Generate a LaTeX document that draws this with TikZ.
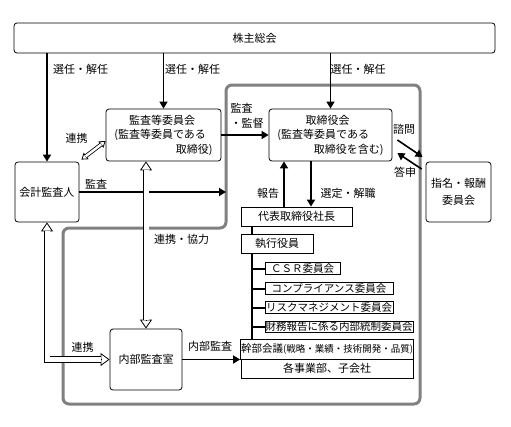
\documentclass[tikz,border=0pt]{standalone}
\usepackage{fontspec}
\setmainfont{Noto Sans CJK JP}
\usetikzlibrary{arrows.meta,calc}

\begin{document}
\begin{tikzpicture}[
        x=1pt, y=-1pt,
        % Environment Config
        font=\fontsize{11}{14.5}\selectfont,
        MyArrow/.style={% Style for the solid arrows
          -{Triangle[length=7pt,width=8pt]},
          line width=1.6pt
        },
        HollowShaft/.style={% Style for the body of the hollow arrows
          draw=black,
          line width=0.8pt,
          double=white,
          double distance=#1,
          shorten >=8.4pt,
          shorten <=8.4pt
        },
        HollowShaft/.default=5pt,
        RBox/.style={% Style for the rounded boxes
          draw,
          rounded corners=3pt,
          line width=0.8pt,
          align=center,
          inner sep=1pt
        },
        SBox/.style={% Style for the plain boxes
          draw,
          line width=0.8pt,
          inner sep=0.5pt
        },
        Cmte/.style={% Style for the committee boxes
          draw,
          line width=0.8pt,
          inner sep=0.3pt,
          minimum height=11.5pt,
          font=\fontsize{10.5}{12}\selectfont
        },
        Trunk/.style={line width=2pt},
        Frame/.style={% Style for the gray frame
          draw=gray,
          line width=3pt,
          rounded corners=6pt
        },
        Lbl/.style={inner sep=1pt}
      ]

      \def\HollowEnd(#1)(#2)#3#4{% Open head at #1, coming from #2
        \draw[line width=0.8pt, -{Triangle[open,length=#3,width=#4]}]
          ($(#1)!#3!(#2)$) -- (#1);
      }

      \useasboundingbox (0,0) rectangle (511,426);

      % Gray frame
      \draw[Frame] (226,85) -- (420,85) -- (420,404) -- (63,404)
        -- (63,228) -- (226,228) -- cycle;

      % Put the boxes
      \draw (254.5,38) node[RBox, minimum width=481pt, minimum height=30pt] (sh) {株主総会};
      \draw (163.5,135) node[RBox, minimum width=115pt, minimum height=52pt, align=left] (ac)
        {\hspace*{1.35em}監査等委員会\\(監査等委員である\\\hspace*{5.6em}取締役)};
      \draw (330.5,135) node[RBox, minimum width=123pt, minimum height=52pt, align=left] (bd)
        {\hspace*{2.55em}取締役会\\(監査等委員である\\\hspace*{3.3em}取締役を含む)};
      \draw (47,192) node[RBox, minimum width=64pt, minimum height=60pt] (au) {会計監査人};
      \draw (458.5,192) node[RBox, minimum width=65pt, minimum height=60pt,
        font=\fontsize{11}{16.5}\selectfont] (nc) {指名・報酬\\委員会};
      \draw (146,359.5) node[RBox, minimum width=72pt, minimum height=61pt] (ia) {内部監査室};

      \draw (296.5,216.5) node[SBox, minimum width=111pt, minimum height=19pt] (ceo) {代表取締役社長};
      \draw (277,243.5) node[SBox, minimum width=72pt, minimum height=19pt] (eo) {執行役員};
      \draw (302.5,268.5) node[Cmte, minimum width=75pt] (csr) {ＣＳＲ委員会};
      \draw (329,288.5) node[Cmte, minimum width=128pt] (comp) {コンプライアンス委員会};
      \draw (329,307.5) node[Cmte, minimum width=128pt] (risk) {リスクマネジメント委員会};
      \draw (339,327) node[Cmte, minimum width=148pt] (fin) {財務報告に係る内部統制委員会};
      \draw (327,349) node[SBox, minimum width=172pt, minimum height=20pt,
        font=\fontsize{10.5}{12}\selectfont] (exec)
        {幹部会議{\fontsize{9.5}{11}\selectfont(戦略・業績・技術開発・品質)}};
      \draw (327,368.5) node[SBox, minimum width=172pt, minimum height=19pt] (div) {各事業部、子会社};

      % Labels
      \draw (80.5,69) node[Lbl] (l1) {選任・解任};
      \draw (192.5,69) node[Lbl] (l2) {選任・解任};
      \draw (358,69) node[Lbl] (l3) {選任・解任};
      \draw (247,116) node[Lbl, align=left] (l4) {監査\\・監督};
      \draw (76.5,138) node[Lbl] (l5) {連携};
      \draw (96,184) node[Lbl] (l6) {監査};
      \draw (181.5,239) node[Lbl] (l7) {連携・協力};
      \draw (82.5,347) node[Lbl] (l8) {連携};
      \draw (210,346) node[Lbl] (l9) {内部監査};
      \draw (268,193) node[Lbl] (l10) {報告};
      \draw (348,193) node[Lbl] (l11) {選定・解職};
      \draw (404,129) node[Lbl] (l12) {諮問};
      \draw (405,172) node[Lbl] (l13) {答申};

      % Solid arrows
      \draw[MyArrow] (sh.south -| au.north) -- (au.north);
      \draw[MyArrow] (sh.south -| ac.north) -- (ac.north);
      \draw[MyArrow] (sh.south -| bd.north) -- (bd.north);
      \draw[MyArrow] (ac.east) -- (bd.west);
      \coordinate (FrameW) at (226,192);
      \draw[MyArrow] (au.east) -- (FrameW);
      \draw[MyArrow] ([xshift=-12.5pt]ceo.north) -- ([xshift=-12.5pt]ceo.north |- bd.south);
      \draw[MyArrow] ([xshift=14.5pt]ceo.north |- bd.south) -- ([xshift=14.5pt]ceo.north);
      \draw[MyArrow] ([shift={(5,5)}]bd.east) -- ([shift={(-3,-35)}]nc.west);
      \draw[MyArrow] ([shift={(-4,-23)}]nc.west) -- ([shift={(5,18)}]bd.east);
      \draw[MyArrow] (ia.east) -- (ia.east -| exec.west);

      % Executive tree
      \coordinate (Spine) at (252,0);
      \draw[Trunk] (Spine |- ceo.south) -- (Spine |- eo.north);
      \draw[Trunk] (Spine |- eo.south) -- (Spine |- exec.north);
      \foreach \n in {csr,comp,risk,fin}
        \draw[Trunk] (Spine |- \n.west) -- (\n.west);

      % Hollow links
      %===Auditor - Internal audit===
      \coordinate (Bend) at (au.south |- ia.west);
      \HollowEnd(au.south)(Bend){9pt}{12pt}
      \HollowEnd(ia.west)(Bend){9pt}{13pt}
      \draw[HollowShaft] (au.south) -- (Bend) -- (ia.west);

      %===Committee - Internal audit===
      \coordinate (AcLow) at (ia.north |- ac.south);
      \HollowEnd(AcLow)(ia.north){9pt}{12pt}
      \HollowEnd(ia.north)(AcLow){9pt}{12pt}
      \draw[HollowShaft] (AcLow) -- (ia.north);

      %===Auditor - Committee===
      \coordinate (LinkA) at ([shift={(2,-2)}]au.north east);
      \coordinate (LinkB) at ([shift={(0,6)}]ac.west);
      \HollowEnd(LinkA)(LinkB){6pt}{8pt}
      \HollowEnd(LinkB)(LinkA){6pt}{8pt}
      \draw[HollowShaft=2.4pt, shorten >=5.4pt, shorten <=5.4pt] (LinkA) -- (LinkB);

      \end{tikzpicture}
\end{document}
